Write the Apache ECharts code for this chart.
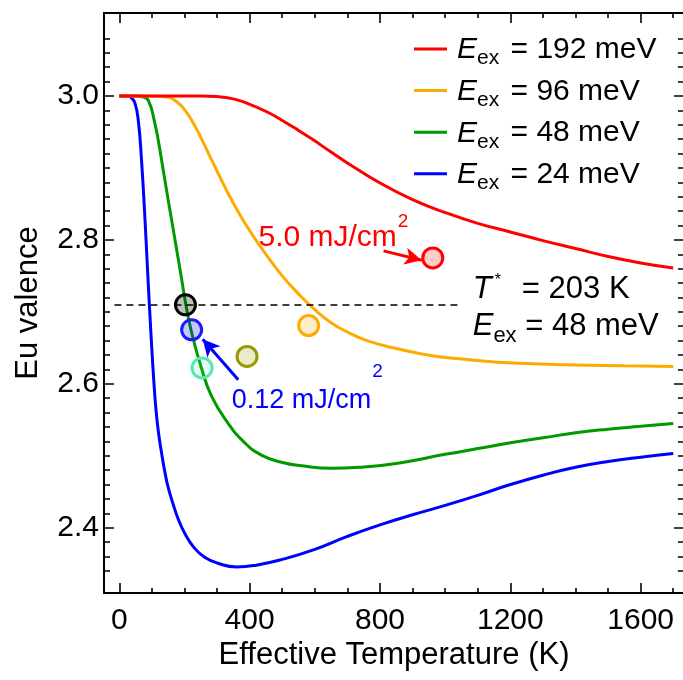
<!DOCTYPE html>
<html><head><meta charset="utf-8">
<script src="https://cdn.jsdelivr.net/npm/echarts@6/dist/echarts.min.js"></script>
<style>html,body{margin:0;padding:0;background:#fff}#c{width:683px;height:680px}</style>
</head><body><div id="c"></div>
<script>
const FONT = '"Liberation Sans", Arial, Helvetica, sans-serif';

// ---- data ----
const tBlue = [0,25,38,48,58,68,78,87,94,100,106,112,120,130,140,150,165,180,200,230,262,300,360,420,500,600,700,800,900,1000,1100,1200,1300,1400,1500,1600,1700];
const vBlue = [3.0,3.0,2.997,2.99,2.967,2.912,2.835,2.755,2.695,2.647,2.603,2.567,2.533,2.503,2.477,2.456,2.433,2.413,2.393,2.372,2.359,2.351,2.3455,2.348,2.356,2.37,2.388,2.404,2.418,2.431,2.445,2.46,2.473,2.484,2.492,2.498,2.503];

const tGreen = [0,50,70,89,109,120,130,145,160,175,190,203,222,252,283,334,385,436,498,560,650,750,860,1000,1100,1200,1300,1400,1500,1600,1700];
const vGreen = [3.0,3.0,2.999,2.994,2.962,2.937,2.91,2.869,2.829,2.789,2.749,2.713,2.671,2.622,2.583,2.545,2.518,2.501,2.491,2.486,2.4825,2.4845,2.49,2.502,2.51,2.518,2.525,2.532,2.537,2.541,2.545];

const tOrange = [0,100,140,170,200,230,260,290,330,370,410,450,500,550,600,650,700,760,860,960,1060,1160,1270,1400,1550,1700];
const vOrange = [3.0,3.0,2.999,2.994,2.981,2.96,2.933,2.905,2.868,2.835,2.806,2.78,2.75,2.725,2.703,2.685,2.672,2.66,2.648,2.639,2.634,2.63,2.628,2.626,2.625,2.624];

const tRed = [0,250,300,350,395,457,500,540,595,650,700,800,900,1000,1100,1200,1300,1400,1500,1600,1700];
const vRed = [3.0,3.0,2.9992,2.996,2.9895,2.977,2.966,2.955,2.939,2.922,2.907,2.879,2.856,2.838,2.823,2.811,2.799,2.788,2.777,2.768,2.761];

const seriesNames = ['192 meV','96 meV','48 meV','24 meV'];

const pointT = [203, 222, 254, 392, 581, 962];
const pointV = [2.7097, 2.675, 2.622, 2.638, 2.681, 2.775];

const vStar = 2.7097;         // valence at T* = 203 K

const xMajorTicks = [0,400,800,1200,1600];
const xMinorTicks = [100,200,300,500,600,700,900,1000,1100,1300,1400,1500,1700];
const yMajorTicks = [2.4,2.6,2.8,3.0];
const yMinorTicks = [2.34,2.36,2.38,2.42,2.44,2.46,2.48,2.5,2.52,2.54,2.56,2.58,2.62,2.64,2.66,2.68,2.7,2.72,2.74,2.76,2.78,2.82,2.84,2.86,2.88,2.9,2.92,2.94,2.96,2.98,3.02,3.04,3.06,3.08];

// ---- styles ----
const lineColors = {'192 meV':'#ff0000','96 meV':'#ffaa00','48 meV':'#009900','24 meV':'#0000ff'};
const pointStroke = ['#000000','#1a1aff','#55e8b0','#999900','#ffaa00','#ff0000'];
const pointFill = ['rgba(0,0,0,0.25)','rgba(0,0,255,0.22)','rgba(85,232,176,0.15)','rgba(153,153,0,0.2)','rgba(255,170,0,0.2)','rgba(255,0,0,0.2)'];

const X_MIN = -47, X_MAX = 1733, Y_MIN = 2.3093, Y_MAX = 3.1153;
const GRID = {left:104, top:13, width:580, height:580, containLabel:false, outerBoundsMode:'none'};

function zip(a, b){ return a.map((v,i)=>[v,b[i]]); }

function xAxisDef(grid, pos, major, withLabel){
  return {
    type:'value', gridIndex:grid, min:X_MIN, max:X_MAX, position:pos,
    axisLine:{show:false, onZero:false},
    axisTick:{show:true, inside:true, length: major?10:5, lineStyle:{color:'#000', width:1.6},
      customValues: major ? xMajorTicks : xMinorTicks},
    axisLabel: withLabel ? {show:true, customValues:xMajorTicks, fontSize:30, color:'#000', fontFamily:FONT, margin:13,
      formatter:(v)=>String(Math.round(v))} : {show:false},
    splitLine:{show:false}, minorTick:{show:false},
    name: withLabel ? 'Effective Temperature (K)' : '',
    nameLocation:'middle', nameGap:47, nameMoveOverlap:false,
    nameTextStyle:{fontSize:31, color:'#000', fontFamily:FONT}
  };
}
function yAxisDef(grid, pos, major, withLabel){
  return {
    type:'value', gridIndex:grid, min:Y_MIN, max:Y_MAX, position:pos,
    axisLine:{show:false, onZero:false},
    axisTick:{show:true, inside:true, length: major?10:6, lineStyle:{color:'#000', width:1.5},
      customValues: major ? yMajorTicks : yMinorTicks},
    axisLabel: withLabel ? {show:true, customValues:yMajorTicks, fontSize:30, color:'#000', fontFamily:FONT, margin:5,
      formatter:(v)=>Number(v).toFixed(1)} : {show:false},
    splitLine:{show:false}, minorTick:{show:false},
    name: withLabel ? 'Eu valence' : '',
    nameLocation:'middle', nameGap:60, nameMoveOverlap:false,
    nameTextStyle:{fontSize:31, color:'#000', fontFamily:FONT}
  };
}

const curveData = {
  '192 meV': zip(tRed, vRed),
  '96 meV': zip(tOrange, vOrange),
  '48 meV': zip(tGreen, vGreen),
  '24 meV': zip(tBlue, vBlue)
};

const drawOrder = ['24 meV','48 meV','96 meV','192 meV'];
const curveSeries = drawOrder.map(n => ({
  name:n, type:'line', xAxisIndex:0, yAxisIndex:0,
  data: curveData[n], showSymbol:false, symbol:'none',
  smooth:0.5,
  lineStyle:{color:lineColors[n], width:3}, itemStyle:{color:lineColors[n]},
  z:2, silent:true
}));

const guideSeries = {
  name:'guides', type:'line', xAxisIndex:0, yAxisIndex:0, data:[], silent:true, z:3,
  markLine:{
    silent:true, animation:false, symbol:['none','none'], label:{show:false},
    emphasis:{disabled:true},
    data:[
      [{coord:[-15, vStar], lineStyle:{type:[7,5], color:'#000', width:1.5}}, {coord:[1039, vStar]}],
      [{coord:[811, 2.7847], symbol:'none', lineStyle:{type:'solid', color:'#ff0000', width:3}},
       {coord:[928, 2.7718], symbol:'arrow', symbolSize:[13,17]}],
      [{coord:[365, 2.6056], symbol:'none', lineStyle:{type:'solid', color:'#0000ff', width:3}},
       {coord:[256, 2.662], symbol:'arrow', symbolSize:[13,17]}]
    ]
  }
};

const pointSeries = {
  name:'points', type:'scatter', xAxisIndex:0, yAxisIndex:0, z:5, silent:true,
  symbol:'circle', symbolSize:20,
  data: pointT.map((t,i)=>({value:[t, pointV[i]], itemStyle:{color:pointFill[i], borderColor:pointStroke[i], borderWidth:3, opacity:1}}))
};

const chart = echarts.init(document.getElementById('c'), null, {renderer:'canvas'});
chart.setOption({
  animation:false,
  backgroundColor:'#fff',
  grid:[
    Object.assign({show:true, borderColor:'#000', borderWidth:2, backgroundColor:'transparent'}, GRID),
    Object.assign({show:false}, GRID)
  ],
  xAxis:[xAxisDef(0,'bottom',true,true), xAxisDef(0,'top',true,false), xAxisDef(1,'bottom',false,false), xAxisDef(1,'top',false,false)],
  yAxis:[yAxisDef(0,'left',true,true), yAxisDef(0,'right',true,false), yAxisDef(1,'left',false,false), yAxisDef(1,'right',false,false)],
  legend:{
    data: seriesNames, orient:'vertical', left:414, top:35, padding:0, itemGap:7.5,
    icon:'rect', itemWidth:33, itemHeight:3, selectedMode:false,
    formatter: (name) => '{i|E}{s|ex}{t| = ' + name + '}',
    textStyle:{color:'#000', fontFamily:FONT, fontSize:30,
      rich:{
        i:{fontStyle:'italic', fontSize:30, fontFamily:FONT, color:'#000', padding:[6.2,0,0,5], verticalAlign:'top'},
        s:{fontSize:21, fontFamily:FONT, color:'#000', padding:[19.3,0,0,0], verticalAlign:'top'},
        t:{fontSize:30, fontFamily:FONT, color:'#000', padding:[6.2,0,0,3], verticalAlign:'top'}
      }}
  },
  graphic:[
    {type:'text', x:258.5, y:209, silent:true, style:{
      text:'{m|5.0 mJ/cm}{p|2}', align:'left', verticalAlign:'top',
      rich:{ m:{fontSize:30, fontFamily:FONT, fill:'#ff0000', padding:[14,0,0,0], verticalAlign:'top'},
             p:{fontSize:19, fontFamily:FONT, fill:'#ff0000', padding:[3,0,0,1], verticalAlign:'top'} }}},
    {type:'text', x:231.7, y:357, silent:true, style:{
      text:'{m|0.12 mJ/cm}{p|2}', align:'left', verticalAlign:'top',
      rich:{ m:{fontSize:27, fontFamily:FONT, fill:'#0000ff', padding:[30,0,0,0], verticalAlign:'top'},
             p:{fontSize:19, fontFamily:FONT, fill:'#0000ff', padding:[4.9,0,0,1], verticalAlign:'top'} }}},
    {type:'text', x:472.7, y:259.8, silent:true, style:{
      text:'{i|T}{p|*}{m|= 203 K}', align:'left', verticalAlign:'top',
      rich:{ i:{fontSize:31, fontFamily:FONT, fontStyle:'italic', fill:'#000', padding:[14,0,0,0], verticalAlign:'top'},
             p:{fontSize:16, fontFamily:FONT, fill:'#000', padding:[12.7,0,0,3], verticalAlign:'top'},
             m:{fontSize:31, fontFamily:FONT, fill:'#000', padding:[14,0,0,21], verticalAlign:'top'} }}},
    {type:'text', x:472.7, y:296.5, silent:true, style:{
      text:'{i|E}{s|ex}{m| = 48 meV}', align:'left', verticalAlign:'top',
      rich:{ i:{fontSize:31, fontFamily:FONT, fontStyle:'italic', fill:'#000', padding:[14,0,0,0], verticalAlign:'top'},
             s:{fontSize:22, fontFamily:FONT, fill:'#000', padding:[28.2,0,0,0], verticalAlign:'top'},
             m:{fontSize:31, fontFamily:FONT, fill:'#000', padding:[14,0,0,0], verticalAlign:'top'} }}}
  ],
  series:[...curveSeries, guideSeries, pointSeries]
});
</script></body></html>
